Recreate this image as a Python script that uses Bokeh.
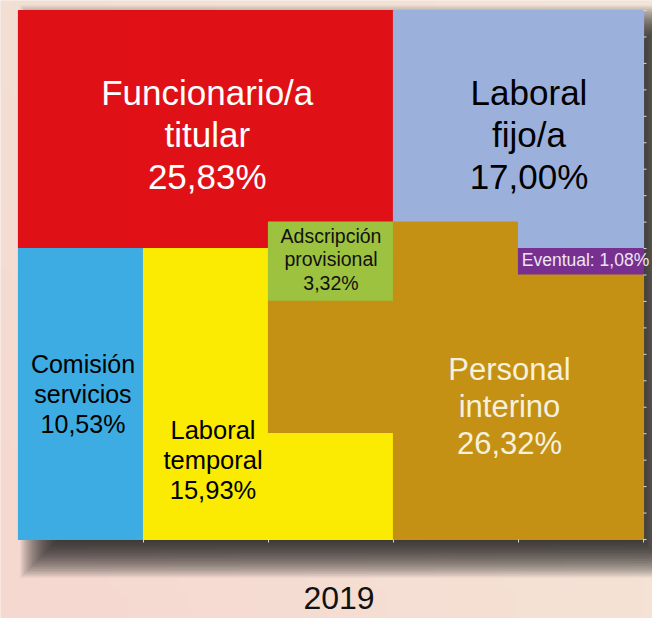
import numpy as np
from bokeh.plotting import figure
from bokeh.models import Range1d
from bokeh.embed import file_html
from bokeh.resources import INLINE
from bokeh.core.properties import value

# ---------------- data ----------------
categories = ["Funcionario/a titular", "Laboral fijo/a", "Comisión servicios",
              "Laboral temporal", "Adscripción provisional", "Personal interino", "Eventual"]
percentages = [25.83, 17.00, 10.53, 15.93, 3.32, 26.32, 1.08]

# cells (1 cell = 1 %) per column, listed from top to bottom
column_cats = [
    ["Funcionario/a titular", "Comisión servicios"],
    ["Funcionario/a titular", "Laboral temporal"],
    ["Funcionario/a titular", "Adscripción provisional", "Personal interino", "Laboral temporal"],
    ["Laboral fijo/a", "Personal interino"],
    ["Laboral fijo/a", "Eventual", "Personal interino"],
]
column_units = [
    [9, 11],
    [9, 11],
    [8, 3, 5, 4],
    [8, 12],
    [9, 1, 10],
]
year_label = "2019"

# ---------------- styles ----------------
fill_colors = {
    "Funcionario/a titular": "#E01116",
    "Laboral fijo/a": "#9CB0DC",
    "Comisión servicios": "#3CACE2",
    "Laboral temporal": "#FBEA02",
    "Adscripción provisional": "#9DC23F",
    "Personal interino": "#C49115",
    "Eventual": "#773090",
}
text_colors = {
    "Funcionario/a titular": "#FFFFFF",
    "Laboral fijo/a": "#000000",
    "Comisión servicios": "#000000",
    "Laboral temporal": "#000000",
    "Adscripción provisional": "#111111",
    "Personal interino": "#F6F0DE",
    "Eventual": "#EDE6F0",
}
font_px = {
    "Funcionario/a titular": 35,
    "Laboral fijo/a": 35,
    "Comisión servicios": 25,
    "Laboral temporal": 25.5,
    "Adscripción provisional": 19.5,
    "Personal interino": 31,
    "Eventual": 17.5,
}
# label anchors: (column position, row from top)
label_anchor = {
    "Funcionario/a titular": (1.51, 4.68, "center"),
    "Laboral fijo/a": (4.084, 4.68, "center"),
    "Comisión servicios": (0.516, 14.49, "center"),
    "Laboral temporal": (1.556, 16.98, "center"),
    "Adscripción provisional": (2.5, 9.41, "center"),
    "Personal interino": (3.928, 14.97, "center"),
    "Eventual": (4.026, 9.44, "left"),
}

ncols = len(column_units)
nrows = sum(column_units[0])

# layout in picture pixels
W, H = 652, 618
GL, GR, GT, GB = 18, 643, 10, 539
px_x = (GR - GL) / ncols
px_y = (GB - GT) / nrows
x0 = -GL / px_x
x1 = x0 + W / px_x
y1 = nrows + GT / px_y
y0 = y1 - H / px_y

def dxp(px):
    return px / px_x

def dyp(px):
    return px / px_y

BG = "#F4DDD3"
p = figure(width=W, height=H, output_backend="svg", toolbar_location=None,
           x_range=Range1d(x0, x1), y_range=Range1d(y0, y1),
           min_border=0, min_border_left=0, min_border_right=0,
           min_border_top=0, min_border_bottom=0)
p.xaxis.visible = False
p.yaxis.visible = False
p.grid.visible = False
p.outline_line_color = None
p.background_fill_color = BG
p.border_fill_color = BG

# ---------------- background gradient ----------------
ny, nx = 62, 66
tl = np.array([243, 223, 212]); tr = np.array([242, 229, 215])
bl = np.array([246, 216, 208]); br = np.array([245, 226, 213])
u = np.linspace(0, 1, nx)[None, :, None]
v = np.linspace(0, 1, ny)[:, None, None]   # 0 = bottom row of image
top_c = tl * (1 - u) + tr * u
bot_c = bl * (1 - u) + br * u
rgb = bot_c * (1 - v) + top_c * v
img = np.empty((ny, nx), dtype=np.uint32)
view = img.view(dtype=np.uint8).reshape((ny, nx, 4))
view[:, :, 0] = rgb[:, :, 0].astype(np.uint8)
view[:, :, 1] = rgb[:, :, 1].astype(np.uint8)
view[:, :, 2] = rgb[:, :, 2].astype(np.uint8)
view[:, :, 3] = 255
p.image_rgba(image=[img], x=x0, y=y0, dw=x1 - x0, dh=y1 - y0)

# ---------------- drop shadow ----------------
core_l, core_r, core_t, core_b = 39, 660, 24, 558   # picture px
layers = 24
blur = 38.0
a = 1 - (1 - 0.82) ** (1 / layers)
for i in range(layers):
    s = -blur / 2 + blur * i / (layers - 1)
    p.quad(left=[dxp(core_l - GL - s)], right=[dxp(core_r - GL + s)],
           top=[nrows - dyp(core_t - GT - s)], bottom=[nrows - dyp(core_b - GT + s)],
           fill_color="#201A18", fill_alpha=a, line_color=None)

# ---------------- cells ----------------
left, right, top, bottom, colors = [], [], [], [], []
for c, (cats, units) in enumerate(zip(column_cats, column_units)):
    start = 0
    for cat, un in zip(cats, units):
        left.append(c)
        right.append(c + 1)
        top.append(nrows - start)
        bottom.append(nrows - start - un)
        colors.append(fill_colors[cat])
        start += un
p.quad(left=left, right=right, top=top, bottom=bottom,
       fill_color=colors, line_color=colors, line_width=1.2)

# ---------------- ticks ----------------
p.segment(x0=[ncols] * (nrows + 1), x1=[ncols + dxp(3)] * (nrows + 1),
          y0=list(range(nrows + 1)), y1=list(range(nrows + 1)),
          line_color="#D8D8D8", line_width=1)
p.segment(x0=list(range(1, ncols + 1)), x1=list(range(1, ncols + 1)),
          y0=[0] * ncols, y1=[-dyp(3)] * ncols,
          line_color="#D8D8D8", line_width=1)

# ---------------- labels ----------------
def fmt(v):
    return f"{v:.2f}".replace(".", ",") + "%"

for cat, pct in zip(categories, percentages):
    ax, ay, align = label_anchor[cat]
    if cat == "Eventual":
        txt = f"{cat}: {fmt(pct)}"
    else:
        txt = cat.replace(" ", "\n") + "\n" + fmt(pct)
    p.text(x=[ax], y=[nrows - ay], text=[txt],
           text_font=value("Liberation Sans"),
           text_font_size=f"{font_px[cat]}px",
           text_color=text_colors[cat], text_align=align,
           text_baseline="middle", text_line_height=1.07)

# year label
p.text(x=[2.564], y=[nrows - 22.23], text=[year_label],
       text_font=value("Liberation Sans"), text_font_size="32px",
       text_color="#111111", text_align="center", text_baseline="middle")

open("out.html", "w").write(file_html(p, INLINE))
